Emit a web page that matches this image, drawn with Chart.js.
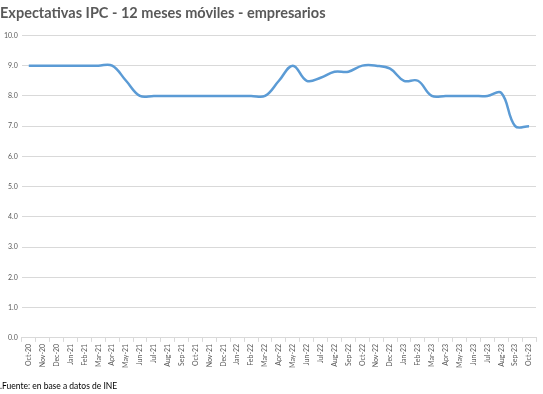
<!DOCTYPE html>
<html>
<head>
<meta charset="utf-8">
<script src="https://cdn.jsdelivr.net/npm/chart.js@4"></script>
<style>
  body { margin: 0; background: #fff; }
  #wrap { position: relative; width: 543px; height: 394px; }
  #note { position: absolute; left: 0; top: 381px; font: 8.5px 'Lato', sans-serif; color: #000; }
</style>
</head>
<body>
<div id="wrap">
  <canvas id="chart"></canvas>
  <div id="note">.Fuente: en base a datos de INE</div>
</div>
<script>
const months = ['Oct-20', 'Nov-20', 'Dec-20', 'Jan-21', 'Feb-21', 'Mar-21', 'Apr-21', 'May-21', 'Jun-21',
    'Jul-21', 'Aug-21', 'Sep-21', 'Oct-21', 'Nov-21', 'Dec-21', 'Jan-22', 'Feb-22', 'Mar-22', 'Apr-22',
    'May-22', 'Jun-22', 'Jul-22', 'Aug-22', 'Sep-22', 'Oct-22', 'Nov-22', 'Dec-22', 'Jan-23', 'Feb-23',
    'Mar-23', 'Apr-23', 'May-23', 'Jun-23', 'Jul-23', 'Aug-23', 'Sep-23', 'Oct-23'];

const expectativas = [9.0, 9.0, 9.0, 9.0, 9.0, 9.0, 9.0, 8.5, 8.0,
    8.0, 8.0, 8.0, 8.0, 8.0, 8.0, 8.0, 8.0, 8.0, 8.5,
    9.0, 8.5, 8.6, 8.8, 8.8, 9.0, 9.0, 8.9, 8.5, 8.5,
    8.0, 8.0, 8.0, 8.0, 8.0, 8.1, 7.0, 7.0];

const yTicks = [0, 1, 2, 3, 4, 5, 6, 7, 8, 9, 10];

const grey = '#595959';
const gridColor = '#d9d9d9';

new Chart(document.getElementById('chart'), {
    type: 'line',
    data: {
        labels: months,
        datasets: [{
            label: 'Expectativas IPC',
            data: expectativas,
            borderColor: '#5b9bd5',
            borderWidth: 2.5,
            pointRadius: 0,
            tension: 0.4,
            fill: false
        }]
    },
    options: {
        responsive: true,
        maintainAspectRatio: false,
        animation: false,
        layout: { padding: { left: 0, right: 7, top: 0, bottom: 24 } },
        plugins: {
            legend: { display: false },
            tooltip: { enabled: false },
            title: {
                display: true,
                text: 'Expectativas IPC - 12 meses móviles - empresarios',
                align: 'start',
                color: grey,
                font: { family: 'Lato', size: 14.5, weight: 'bold' },
                padding: { top: 5, bottom: 13 }
            }
        },
        scales: {
            x: {
                offset: true,
                grid: { display: true, drawOnChartArea: false, color: gridColor, tickLength: 4, offset: true },
                border: { color: gridColor },
                ticks: {
                    color: grey,
                    font: { family: 'Lato', size: 7 },
                    minRotation: 90,
                    maxRotation: 90,
                    autoSkip: false,
                    padding: 2
                }
            },
            y: {
                min: 0,
                max: 10,
                afterBuildTicks: axis => { axis.ticks = yTicks.map(v => ({ value: v })); },
                grid: { color: gridColor, drawTicks: false },
                border: { display: false },
                ticks: {
                    color: grey,
                    font: { family: 'Lato', size: 7 },
                    padding: 4,
                    callback: v => v.toFixed(1)
                }
            }
        }
    }
});
</script>
</body>
</html>
